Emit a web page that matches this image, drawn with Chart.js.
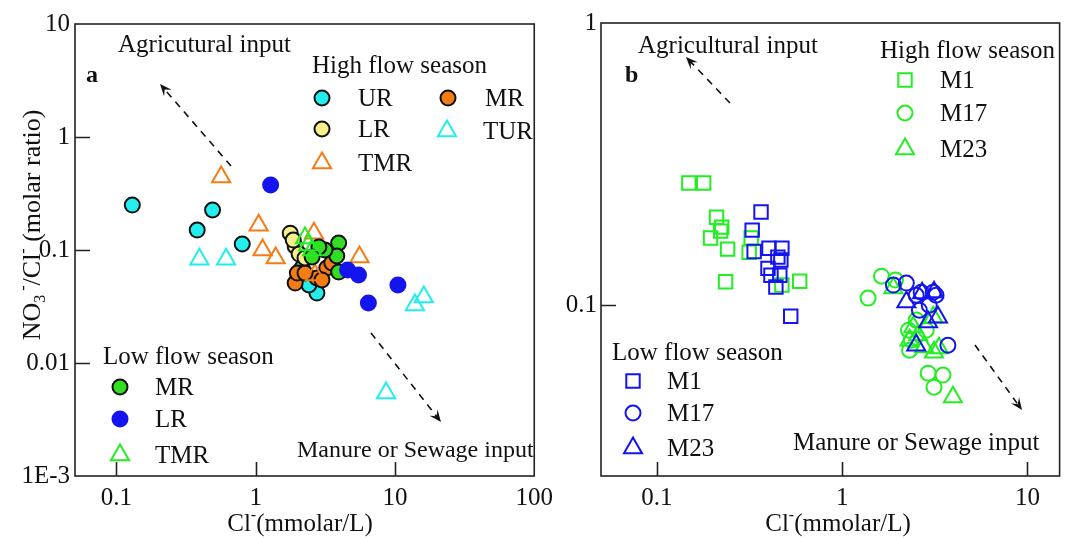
<!DOCTYPE html>
<html><head><meta charset="utf-8">
<script src="https://cdn.jsdelivr.net/npm/chart.js@4.4.0/dist/chart.umd.min.js"></script>
<style>
html,body{margin:0;padding:0;background:#fff;width:1072px;height:539px;overflow:hidden}
canvas{position:absolute;top:0}
#ca{left:0}
#cb{left:560px}
</style></head><body>
<canvas id="ca" width="560" height="539"></canvas>
<canvas id="cb" width="512" height="539"></canvas>
<script>
const FONT = "'Liberation Serif','Times New Roman',serif";

// ---------- Panel a : ticks ----------
const aXTicks = [0.1, 1, 10, 100];
const aXTickLabels = ['0.1', '1', '10', '100'];
const aYTicks = [10, 1, 0.1, 0.01, 0.001];
const aYTickLabels = ['10', '1', '0.1', '0.01', '1E-3'];

// ---------- Panel a : series ----------
const urX = [0.13, 0.49, 0.38, 0.80, 2.75, 2.41, 2.15];
const urY = [0.250, 0.226, 0.150, 0.113, 0.0416, 0.049, 0.0693];
const mrHighX = [1.92, 1.99, 3.24, 3.52, 2.75, 2.26, 2.99];
const mrHighY = [0.051, 0.0625, 0.0693, 0.0767, 0.0565, 0.0625, 0.0543];
const lrHighX = [1.77, 1.92, 2.05, 1.86, 2.26];
const lrHighY = [0.141, 0.108, 0.092, 0.1225, 0.085];
const turX = [0.394, 0.613, 13.9, 16.1, 8.63];
const turY = [0.083, 0.083, 0.0326, 0.0384, 0.00543];
const tmrHighX = [0.565, 1.05, 1.12, 1.39, 2.62, 2.66, 5.56];
const tmrHighY = [0.443, 0.166, 0.100, 0.085, 0.141, 0.060, 0.0867];
const mrLowX = [3.94, 3.82, 3.14, 3.94, 2.84, 2.54];
const mrLowY = [0.1153, 0.0885, 0.100, 0.0638, 0.1064, 0.0867];
const lrLowX = [1.28, 4.57, 5.47, 10.5, 6.44];
const lrLowY = [0.376, 0.0665, 0.060, 0.049, 0.034];
const tmrLowX = [2.26, 2.54, 2.38];
const tmrLowY = [0.1277, 0.100, 0.1107];

// ---------- Panel b : ticks ----------
const bXTicks = [0.1, 1, 10];
const bXTickLabels = ['0.1', '1', '10'];
const bYTicks = [1, 0.1];
const bYTickLabels = ['1', '0.1'];

// ---------- Panel b : series ----------
const m1HighX = [0.149, 0.179, 0.210, 0.224, 0.221, 0.195, 0.241, 0.315, 0.323, 0.235, 0.590, 0.473];
const m1HighY = [0.271, 0.271, 0.205, 0.189, 0.183, 0.173, 0.158, 0.154, 0.173, 0.121, 0.1216, 0.1178];
const m17HighX = [1.63, 1.94, 1.38, 2.28, 2.36, 2.31, 2.91, 3.50, 3.13, 2.84, 2.51];
const m17HighY = [0.1267, 0.1227, 0.1059, 0.0815, 0.0751, 0.0692, 0.0574, 0.0565, 0.0512, 0.0815, 0.0885];
const m23HighX = [1.89, 2.42, 2.57, 2.77, 3.13, 3.33, 3.96, 2.31, 3.10];
const m23HighY = [0.1149, 0.0836, 0.0783, 0.0710, 0.0681, 0.0704, 0.0472, 0.0751, 0.0906];
const m1LowX = [0.365, 0.327, 0.335, 0.403, 0.473, 0.450, 0.467, 0.398, 0.413, 0.461, 0.439, 0.528];
const m1LowY = [0.214, 0.1845, 0.155, 0.159, 0.159, 0.148, 0.1445, 0.135, 0.1277, 0.1277, 0.1159, 0.0914];
const m17LowX = [1.89, 2.22, 2.67, 3.10, 3.21, 2.61, 3.72, 2.95, 2.51];
const m17LowY = [0.1178, 0.1197, 0.1112, 0.1112, 0.1084, 0.096, 0.0721, 0.100, 0.1084];
const m23LowX = [2.22, 2.70, 3.13, 2.91, 3.29, 2.51];
const m23LowY = [0.1025, 0.1103, 0.1112, 0.0871, 0.0906, 0.0721];

const pts = (xs, ys) => xs.map((x, i) => ({x: x, y: ys[i]}));

function ds(label, xs, ys, style, radius, fill, stroke, bw) {
  return {label: label, data: pts(xs, ys), pointStyle: style, pointRadius: radius,
    pointBackgroundColor: fill, pointBorderColor: stroke, pointBorderWidth: bw,
    showLine: false, pointHoverRadius: radius};
}

const CYAN = '#22eeee', ORANGE = '#f47c14', YELLOW = '#f7ef8a', GREEN = '#33dd22',
      BLUE = '#1414ee', OGREEN = '#22ee22', NONE = 'rgba(0,0,0,0)', BLACK = '#111';

const dsA = [
  ds('UR', urX, urY, 'circle', 7.5, CYAN, BLACK, 2),
  ds('MR', mrHighX, mrHighY, 'circle', 7.5, ORANGE, BLACK, 2),
  ds('LR', lrHighX, lrHighY, 'circle', 7.5, YELLOW, BLACK, 2),
  ds('TUR', turX, turY, 'triangle', 10.5, NONE, CYAN, 2),
  ds('TMR', tmrHighX, tmrHighY, 'triangle', 10.5, NONE, ORANGE, 2),
  ds('MR low', mrLowX, mrLowY, 'circle', 7.5, GREEN, BLACK, 2),
  ds('LR low', lrLowX, lrLowY, 'circle', 8.5, BLUE, BLUE, 0),
  ds('TMR low', tmrLowX, tmrLowY, 'triangle', 10.5, NONE, OGREEN, 2)
];
const dsB = [
  ds('M1', m1HighX, m1HighY, 'rect', 9.5, NONE, OGREEN, 2),
  ds('M17', m17HighX, m17HighY, 'circle', 7.5, NONE, OGREEN, 2),
  ds('M23', m23HighX, m23HighY, 'triangle', 10.4, NONE, OGREEN, 2),
  ds('M1 low', m1LowX, m1LowY, 'rect', 9.5, NONE, BLUE, 2),
  ds('M17 low', m17LowX, m17LowY, 'circle', 7.5, NONE, BLUE, 2),
  ds('M23 low', m23LowX, m23LowY, 'triangle', 10.4, NONE, BLUE, 2)
];
// later datasets on top
dsA.forEach((d, i) => d.order = dsA.length - i);
dsB.forEach((d, i) => d.order = dsB.length - i);

function marker(ctx, d, x, y) {
  ctx.save();
  ctx.fillStyle = d.pointBackgroundColor;
  ctx.strokeStyle = d.pointBorderColor;
  ctx.lineWidth = d.pointBorderWidth;
  Chart.helpers.drawPoint(ctx, {pointStyle: d.pointStyle, radius: d.pointRadius,
    borderWidth: d.pointBorderWidth, rotation: 0}, x, y);
  ctx.restore();
}

function rich(ctx, segs, x, y, size) {
  const small = Math.round(size * 0.62);
  const w = segs.map(s => { ctx.font = (s[1] ? small : size) + 'px ' + FONT; return ctx.measureText(s[0]).width; });
  const total = w.reduce((a, b) => a + b, 0);
  let cx = x - total / 2;
  ctx.textAlign = 'left'; ctx.textBaseline = 'alphabetic';
  segs.forEach((s, i) => {
    ctx.font = (s[1] ? small : size) + 'px ' + FONT;
    const dy = s[1] === 1 ? -size * 0.45 : (s[1] === -1 ? size * 0.2 : 0);
    ctx.fillText(s[0], cx, y + dy);
    cx += w[i];
  });
}

function arrow(ctx, a) {
  ctx.save();
  ctx.strokeStyle = BLACK; ctx.fillStyle = BLACK; ctx.lineWidth = 1.6;
  const ang = Math.atan2(a[3] - a[1], a[2] - a[0]);
  const ex = a[2] - Math.cos(ang) * 6, ey = a[3] - Math.sin(ang) * 6;
  ctx.setLineDash([7, 6]);
  ctx.beginPath(); ctx.moveTo(a[0], a[1]); ctx.lineTo(ex, ey); ctx.stroke();
  ctx.setLineDash([]);
  const L = 12, W = 5;
  ctx.beginPath();
  ctx.moveTo(a[2], a[3]);
  ctx.lineTo(a[2] - L * Math.cos(ang) + W * Math.sin(ang), a[3] - L * Math.sin(ang) - W * Math.cos(ang));
  ctx.lineTo(a[2] - 0.6 * L * Math.cos(ang), a[3] - 0.6 * L * Math.sin(ang));
  ctx.lineTo(a[2] - L * Math.cos(ang) - W * Math.sin(ang), a[3] - L * Math.sin(ang) + W * Math.cos(ang));
  ctx.closePath(); ctx.fill();
  ctx.restore();
}

const deco = {
  id: 'deco',
  afterDraw(chart, args, o) {
    const ctx = chart.ctx, ca = chart.chartArea;
    const xs = chart.scales.x, ys = chart.scales.y;
    ctx.save();
    // frame
    ctx.strokeStyle = '#222'; ctx.lineWidth = 1.6;
    ctx.strokeRect(ca.left, ca.top, ca.right - ca.left, ca.bottom - ca.top);
    // inward ticks
    ctx.beginPath();
    o.xt.forEach(v => { const p = Math.round(xs.getPixelForValue(v)) + 0.5;
      if (p > ca.left + 2 && p < ca.right - 2) { ctx.moveTo(p, ca.bottom); ctx.lineTo(p, ca.bottom - 14); } });
    o.yt.forEach(v => { const p = Math.round(ys.getPixelForValue(v)) + 0.5;
      if (p > ca.top + 2 && p < ca.bottom - 2) { ctx.moveTo(ca.left, p); ctx.lineTo(ca.left + 15, p); } });
    ctx.stroke();
    // texts
    ctx.fillStyle = BLACK; ctx.textAlign = 'left'; ctx.textBaseline = 'alphabetic';
    o.texts.forEach(t => { ctx.font = (t[4] ? 'bold ' : '') + t[3] + 'px ' + FONT; ctx.fillText(t[0], t[1], t[2]); });
    // legend
    o.legend.forEach(l => {
      const d = chart.data.datasets[l[0]];
      marker(ctx, d, l[1], l[2]);
      ctx.fillStyle = BLACK; ctx.font = '25px ' + FONT;
      ctx.fillText(l[3], l[4], l[2] + 8);
    });
    o.arrows.forEach(a => arrow(ctx, a));
    // axis titles
    ctx.fillStyle = BLACK;
    rich(ctx, [['Cl', 0], ['-', 1], ['(mmolar/L)', 0]], o.xtitle[0], o.xtitle[1], 25);
    if (o.ytitle) {
      ctx.save();
      ctx.translate(o.ytitle[0], o.ytitle[1]);
      ctx.rotate(-Math.PI / 2);
      rich(ctx, [['NO', 0], ['3', -1], [' -', 1], ['/Cl', 0], ['-', 1], [' (molar ratio)', 0]], 0, 0, 26);
      ctx.restore();
    }
    ctx.restore();
  }
};

function axes(xmin, xmax, xt, xl, ymin, ymax, yt, yl, yw, ypad) {
  const lab = (arr, labs) => v => { const i = arr.indexOf(v); return i >= 0 ? labs[i] : ''; };
  return {
    x: {type: 'logarithmic', min: xmin, max: xmax,
      afterBuildTicks: s => { s.ticks = xt.map(v => ({value: v})); },
      afterFit: s => { s.height = 63; },
      grid: {display: false, drawTicks: false}, border: {display: false},
      ticks: {autoSkip: false, maxRotation: 0, padding: 7, color: BLACK,
        font: {family: FONT, size: 25}, callback: lab(xt, xl)}},
    y: {type: 'logarithmic', min: ymin, max: ymax,
      afterBuildTicks: s => { s.ticks = yt.map(v => ({value: v})); },
      afterFit: s => { s.width = yw; },
      grid: {display: false, drawTicks: false}, border: {display: false},
      ticks: {autoSkip: false, padding: ypad, color: BLACK,
        font: {family: FONT, size: 25}, callback: lab(yt, yl)}}
  };
}

const common = {responsive: false, animation: false, events: [], devicePixelRatio: 1,
  plugins: {legend: {display: false}, tooltip: {enabled: false}}};

new Chart(document.getElementById('ca'), {
  type: 'scatter',
  data: {datasets: dsA},
  plugins: [deco],
  options: Object.assign({}, common, {
    layout: {padding: {top: 24, right: 20, left: 0, bottom: 0}},
    scales: axes(0.0504, 100, aXTicks, aXTickLabels, 0.001, 10, aYTicks, aYTickLabels, 75, 5),
    plugins: Object.assign({}, common.plugins, {deco: {
      xt: aXTicks, yt: aYTicks,
      texts: [['Agricutural input', 118, 52, 25], ['a', 86, 82, 24, true], ['High flow season', 312, 73, 25],
              ['Low flow season', 103, 364, 25], ['Manure or Sewage input', 297, 457, 24]],
      legend: [[0, 322, 98, 'UR', 358], [1, 448, 98, 'MR', 485], [2, 322, 129, 'LR', 358],
               [3, 447, 131, 'TUR', 483], [4, 322, 163, 'TMR', 358],
               [5, 120, 387, 'MR', 155], [6, 120, 419, 'LR', 155], [7, 120, 455, 'TMR', 155]],
      arrows: [[231, 166, 160, 84], [371, 333, 441, 422]],
      xtitle: [300, 531], ytitle: [40, 225]
    }})
  })
});

new Chart(document.getElementById('cb'), {
  type: 'scatter',
  data: {datasets: dsB},
  plugins: [deco],
  options: Object.assign({}, common, {
    layout: {padding: {top: 23, right: 7, left: 0, bottom: 0}},
    scales: axes(0.05, 14.9, bXTicks, bXTickLabels, 0.0248, 1, bYTicks, bYTickLabels, 41, 4),
    plugins: Object.assign({}, common.plugins, {deco: {
      xt: bXTicks, yt: bYTicks,
      texts: [['Agricultural input', 78, 53, 25], ['b', 65, 82, 24, true], ['High flow season', 320, 58, 25],
              ['Low flow season', 52, 360, 25], ['Manure or Sewage input', 233, 450, 25]],
      legend: [[0, 345, 80, 'M1', 380], [1, 345, 113, 'M17', 380], [2, 345, 149, 'M23', 380],
               [3, 73, 381, 'M1', 107], [4, 73, 413, 'M17', 107], [5, 73, 448, 'M23', 107]],
      arrows: [[170, 103, 126, 57], [415, 345, 462, 410]],
      xtitle: [278, 531], ytitle: null
    }})
  })
});
</script>
</body></html>
